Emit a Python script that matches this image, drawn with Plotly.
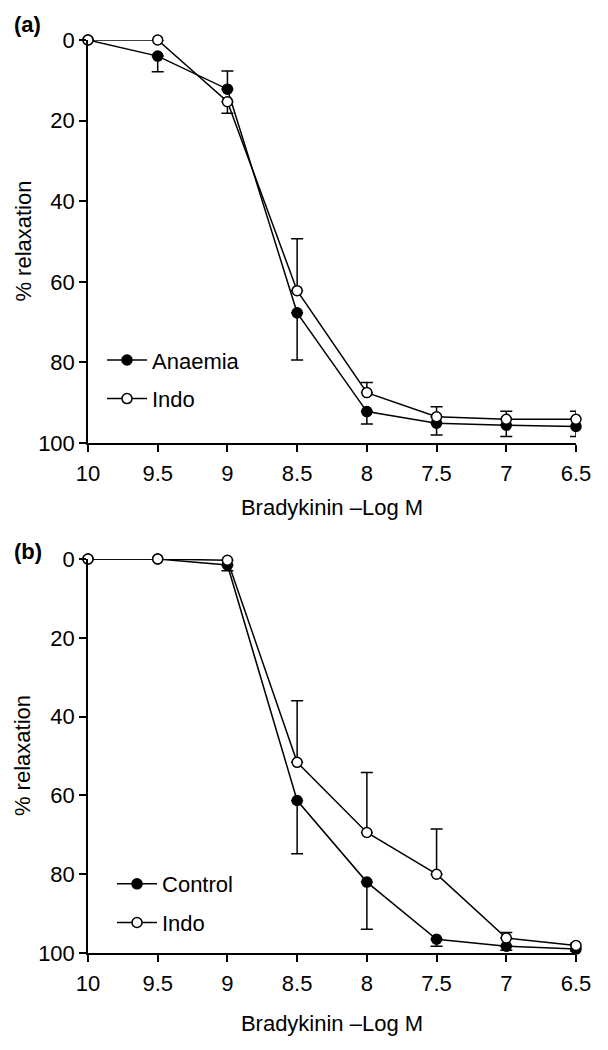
import plotly.graph_objects as go

# x positions (-log M bradykinin)
dose = [10, 9.5, 9, 8.5, 8, 7.5, 7, 6.5]
dose_labels = ["10", "9.5", "9", "8.5", "8", "7.5", "7", "6.5"]

# panel (a)
anaemia = [0, 4, 12.2, 67.7, 92.2, 95.1, 95.6, 95.9]
anaemia_up = [0, 3.9, 0, 11.7, 3.1, 2.9, 2.8, 2.5]
anaemia_dn = [0, 0, 4.5, 0, 0, 0, 0, 0]
indo_a = [0, 0, 15.3, 62.2, 87.5, 93.5, 94.1, 94.1]
indo_a_up = [0, 0, 2.9, 0, 0, 0, 0, 0]
indo_a_dn = [0, 0, 0, 12.9, 2.5, 2.5, 2.0, 2.0]

# panel (b)
control = [0, 0, 1.5, 61.3, 82.0, 96.5, 98.3, 99.0]
control_up = [0, 0, 1.5, 13.5, 12.0, 1.8, 1.0, 0.5]
control_dn = [0, 0, 0, 0, 0, 0, 0, 0]
indo_b = [0, 0, 0.3, 51.6, 69.4, 80.0, 96.2, 98.1]
indo_b_up = [0, 0, 0, 0, 0, 0, 0, 0]
indo_b_dn = [0, 0, 0.5, 15.6, 15.2, 11.5, 1.4, 0.5]

FONT = "Liberation Sans, Arial, Helvetica, sans-serif"
FS = 22


def series(name, y, up, dn, filled, xa, ya, legend):
    return go.Scatter(
        x=dose, y=y, name=name, mode="lines+markers",
        xaxis=xa, yaxis=ya, legend=legend, legendgroup=name + xa,
        line=dict(color="black", width=1.5),
        marker=dict(size=10, color="black" if filled else "white",
                    line=dict(color="black", width=1.5)),
        error_y=dict(type="data", symmetric=False, array=up, arrayminus=dn,
                     color="black", thickness=1.5, width=6),
        cliponaxis=False,
    )


fig = go.Figure()
fig.add_trace(series("Anaemia", anaemia, anaemia_up, anaemia_dn, True, "x", "y", "legend"))
fig.add_trace(series("Indo", indo_a, indo_a_up, indo_a_dn, False, "x", "y", "legend"))
fig.add_trace(series("Control", control, control_up, control_dn, True, "x2", "y2", "legend2"))
fig.add_trace(series("Indo", indo_b, indo_b_up, indo_b_dn, False, "x2", "y2", "legend2"))

xax = dict(range=[10, 6.5], tickvals=dose, ticktext=dose_labels,
           showline=True, linecolor="black", linewidth=1.5,
           ticks="outside", ticklen=7, tickwidth=1.5, tickcolor="black",
           showgrid=False, zeroline=False, ticklabelstandoff=3,
           tickfont=dict(size=FS, color="black"))
yax = dict(range=[100, 0], tickvals=[0, 20, 40, 60, 80, 100],
           showline=True, linecolor="black", linewidth=1.5,
           ticks="outside", ticklen=7, tickwidth=1.5, tickcolor="black",
           showgrid=False, zeroline=False,
           tickfont=dict(size=FS, color="black"))


def xtitle(standoff):
    return dict(text="Bradykinin \u2013Log M", font=dict(size=FS, color="black"), standoff=standoff)


leg = dict(font=dict(size=FS, color="black", family=FONT), bgcolor="rgba(0,0,0,0)",
           xanchor="left", yanchor="top", tracegroupgap=7, itemwidth=40)

# y titles as rotated notes so they sit where the original has them
ytitle = dict(text="% relaxation", xref="paper", yref="paper", x=-0.133,
              xanchor="center", yanchor="middle", textangle=-90,
              showarrow=False, font=dict(size=FS))

fig.update_layout(
    width=608, height=1050,
    margin=dict(l=80, r=40, t=32, b=105),
    paper_bgcolor="white", plot_bgcolor="white",
    font=dict(family=FONT, size=FS, color="black"),
    xaxis=dict(xax, domain=[0, 1], anchor="y", title=xtitle(14)),
    yaxis=dict(yax, domain=[0.5586, 1], anchor="x"),
    xaxis2=dict(xax, domain=[0, 1], anchor="y2", title=xtitle(20)),
    yaxis2=dict(yax, domain=[0, 0.4315], anchor="x2"),
    legend=dict(leg, x=0.0287, y=0.6723),
    legend2=dict(leg, x=0.0492, y=0.0985),
    annotations=[
        dict(text="<b>(a)</b>", xref="paper", yref="paper", x=-0.156, y=1.017,
             xanchor="left", yanchor="middle", showarrow=False, font=dict(size=FS)),
        dict(text="<b>(b)</b>", xref="paper", yref="paper", x=-0.156, y=0.4393,
             xanchor="left", yanchor="middle", showarrow=False, font=dict(size=FS)),
        dict(ytitle, y=0.7793),
        dict(ytitle, y=0.2158),
    ],
)

fig.write_html("out.html")
